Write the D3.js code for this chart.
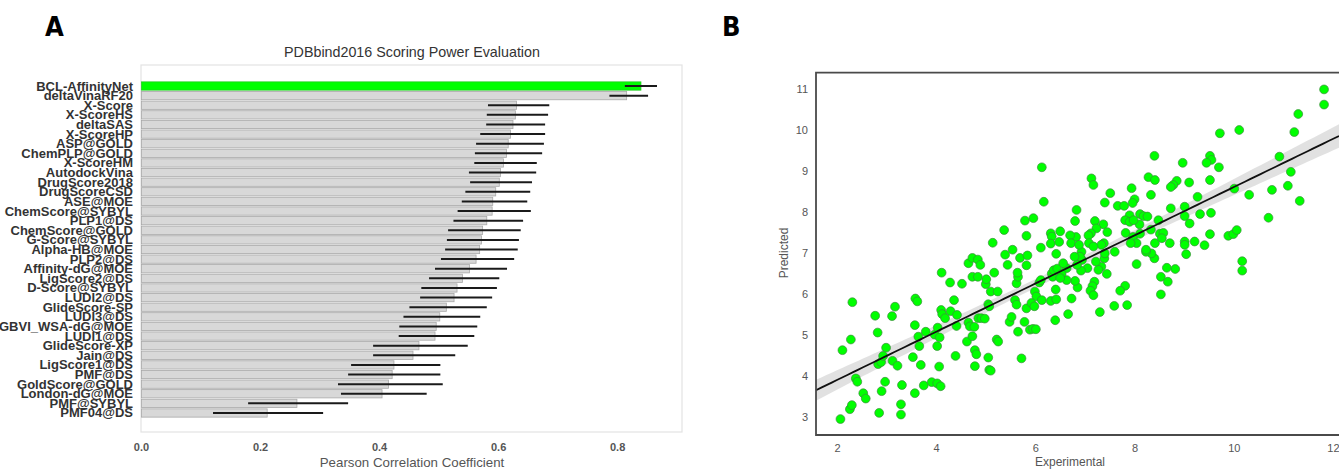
<!DOCTYPE html>
<html><head><meta charset="utf-8">
<script src="https://cdn.jsdelivr.net/npm/d3@7"></script>
<style>
html,body{margin:0;padding:0;background:#fff;}
svg{display:block;}
</style></head>
<body>
<svg id="chart" width="1339" height="470"></svg>
<script>
// ---------- Panel A data ----------
const methods = ["BCL-AffinityNet","deltaVinaRF20","X-Score","X-ScoreHS","deltaSAS","X-ScoreHP","ASP@GOLD","ChemPLP@GOLD","X-ScoreHM","AutodockVina","DrugScore2018","DrugScoreCSD","ASE@MOE","ChemScore@SYBYL","PLP1@DS","ChemScore@GOLD","G-Score@SYBYL","Alpha-HB@MOE","PLP2@DS","Affinity-dG@MOE","LigScore2@DS","D-Score@SYBYL","LUDI2@DS","GlideScore-SP","LUDI3@DS","GBVI_WSA-dG@MOE","LUDI1@DS","GlideScore-XP","Jain@DS","LigScore1@DS","PMF@DS","GoldScore@GOLD","London-dG@MOE","PMF@SYBYL","PMF04@DS"];
const pcc = [0.840,0.816,0.631,0.629,0.625,0.621,0.617,0.614,0.609,0.604,0.602,0.596,0.591,0.590,0.581,0.574,0.572,0.569,0.563,0.552,0.540,0.531,0.526,0.513,0.502,0.496,0.494,0.467,0.457,0.425,0.422,0.416,0.405,0.262,0.212];
const ciLow = [0.813,0.787,0.583,0.581,0.580,0.570,0.563,0.561,0.560,0.551,0.553,0.545,0.539,0.532,0.525,0.516,0.514,0.511,0.504,0.494,0.484,0.471,0.469,0.451,0.441,0.434,0.433,0.390,0.390,0.353,0.348,0.331,0.336,0.180,0.121];
const ciHigh = [0.867,0.852,0.686,0.684,0.679,0.679,0.677,0.674,0.665,0.664,0.657,0.654,0.649,0.655,0.642,0.638,0.635,0.633,0.627,0.615,0.602,0.598,0.590,0.581,0.570,0.565,0.560,0.549,0.528,0.503,0.503,0.507,0.480,0.348,0.306];
const highlight = "BCL-AffinityNet";
const xTicksA = [0.0,0.2,0.4,0.6,0.8];
const titleA = "PDBbind2016 Scoring Power Evaluation";
const xLabelA = "Pearson Correlation Coefficient";

// ---------- Panel B data ----------
const expX = [6.13,6.17,5.79,5.96,5.37,5.82,5.14,6.31,6.33,6.31,6.50,6.11,5.54,
2.07,2.26,2.30,2.11,2.28,2.31,2.38,2.41,2.53,2.58,2.77,2.82,2.85,2.83,2.89,2.90,2.97,2.99,2.93,3.11,3.17,3.12,3.22,3.29,3.29,3.31,3.57,3.57,3.53,3.58,3.62,3.64,3.66,3.69,3.75,3.79,3.91,3.97,4.03,4.02,4.07,4.06,4.02,4.09,4.11,4.10,4.12,4.18,4.28,4.29,4.36,4.42,4.41,4.39,4.52,4.62,4.65,4.68,4.73,4.77,4.78,4.78,4.81,4.85,4.91,4.98,5.05,5.07,5.10,5.05,5.07,5.10,5.24,5.22,5.25,5.00,5.01,5.17,4.73,4.84,4.65,4.73,4.84,4.89,5.39,5.44,5.48,5.52,5.65,5.72,5.59,5.62,5.62,5.65,5.64,5.69,5.82,5.84,5.78,5.82,5.89,5.95,6.01,5.99,6.02,5.92,5.98,6.08,6.13,6.11,6.31,6.40,6.33,6.35,6.37,6.41,6.42,6.44,6.42,
10.17,10.17,9.04,8.82,8.65,8.53,8.67,8.53,8.40,8.34,8.23,8.04,7.85,7.81,7.71,7.59,7.60,7.44,7.30,7.39,7.40,7.33,7.27,7.22,7.19,7.15,7.11,7.17,7.05,6.93,6.94,6.92,6.90,6.79,6.84,6.85,6.80,6.73,6.66,6.63,6.63,6.56,6.53,6.50,
11.82,11.82,11.30,11.22,10.92,11.15,11.09,11.33,10.77,10.70,10.31,10.01,10.11,9.72,9.52,9.55,9.45,9.70,8.97,8.40,9.52,9.10,8.85,8.78,8.73,9.27,9.32,9.54,9.01,9.01,9.11,8.73,8.71,9.01,9.01,9.21,9.41,9.52,9.89,9.99,10.06,8.33,8.28,8.41,7.94,8.00,7.96,7.51,7.40,7.13,7.17,6.83,6.80,7.66,7.79,7.90,8.11,8.18,8.26,8.10,8.48,7.81,7.90,7.98,7.82,7.97,8.04,7.92,8.11,8.33,8.41,8.51,8.58,8.55,8.23,7.20,7.37,7.45,7.38,7.23,7.33,7.12,7.07,7.08,7.17,6.82,6.70,6.48,6.72,6.88];
const predY = [9.09,8.25,7.79,7.85,7.56,7.42,7.25,7.48,7.40,7.23,7.53,7.13,7.08,
2.95,3.19,3.29,4.63,4.89,5.80,3.94,3.86,3.58,3.45,5.47,5.06,3.10,4.29,4.34,3.63,3.86,4.69,4.49,5.46,5.69,4.37,4.25,3.31,3.06,3.78,3.58,5.24,4.46,5.89,5.82,4.96,4.73,4.27,3.77,5.08,3.85,5.01,5.18,4.73,4.94,4.23,3.82,3.75,6.52,5.61,5.51,5.41,6.28,5.58,5.85,5.49,5.22,4.49,6.25,4.84,5.30,5.21,4.97,5.20,4.63,4.24,4.53,5.41,5.41,5.40,4.45,4.15,4.13,5.75,5.70,6.06,6.06,4.89,4.84,6.24,6.36,6.52,6.42,6.42,6.75,6.88,6.84,6.71,6.96,6.71,5.32,5.44,5.08,4.43,5.85,5.74,6.26,6.42,6.52,6.88,6.70,6.94,5.32,5.65,5.13,5.15,5.14,6.06,5.94,5.78,5.70,6.28,5.85,6.34,5.83,5.36,6.50,6.42,6.58,6.11,5.87,6.62,6.98,
6.80,6.57,6.97,6.61,6.64,6.42,6.30,5.99,6.87,6.99,7.03,6.73,5.73,6.20,6.08,5.71,7.03,6.49,5.56,6.87,6.99,6.67,6.59,6.79,6.30,6.19,6.08,5.97,6.63,7.03,6.83,6.57,6.91,6.91,6.71,6.16,6.32,5.89,5.51,6.34,6.63,6.75,6.49,6.39,
10.99,10.62,10.39,9.95,9.35,8.98,8.64,8.27,8.54,7.86,8.42,8.57,10.00,9.92,9.37,9.27,9.20,9.09,9.20,9.37,8.78,8.72,8.76,8.66,8.61,8.37,7.95,7.98,8.13,7.90,7.72,8.09,7.24,7.28,7.20,7.28,7.19,7.46,7.42,7.46,7.56,8.42,8.85,8.78,8.58,8.31,8.22,8.46,8.23,8.82,8.66,8.05,7.78,8.15,8.15,7.92,7.95,7.90,7.89,7.70,7.80,7.80,7.76,7.80,7.49,7.39,7.24,7.24,7.47,7.57,7.24,7.47,7.49,7.36,7.08,7.78,7.70,7.51,7.24,7.60,7.20,7.48,7.43,7.24,7.16,7.39,7.43,7.27,7.24,7.20];
const xTicksB = [2,4,6,8,10,12];
const yTicksB = [3,4,5,6,7,8,9,10,11];
const xLabelB = "Experimental";
const yLabelB = "Predicted";

const svg = d3.select("#chart");
const FONT = "'Liberation Sans', Arial, sans-serif";

// ================= Panel A =================
const A = {left:141, right:682, top:65, bottom:432};
const xA = d3.scaleLinear().domain([0, 0.909]).range([A.left, A.right]);
const yA = d3.scaleBand().domain(methods).range([81.2, 417.8]).paddingInner(0.14).paddingOuter(0.07);

svg.append("text").attr("x",45).attr("y",36).text("A")
  .attr("font-family","'Liberation Sans Narrow','DejaVu Sans Condensed',sans-serif")
  .attr("font-weight","bold").attr("font-size",27).attr("fill","#000");

svg.append("text").attr("x",412).attr("y",57).attr("text-anchor","middle")
  .attr("font-family",FONT).attr("font-size",14.3).attr("fill","#333").text(titleA);

svg.append("rect").attr("x",A.left).attr("y",A.top).attr("width",A.right-A.left).attr("height",A.bottom-A.top)
  .attr("fill","none").attr("stroke","#e3e3e3").attr("stroke-width",1.2);

const gA = svg.append("g");
gA.selectAll("rect.bar").data(methods).join("rect").attr("class","bar")
  .attr("x", xA(0)+0.5)
  .attr("y", d=>yA(d))
  .attr("width", (d,i)=>xA(pcc[i])-xA(0)-0.5)
  .attr("height", yA.bandwidth())
  .attr("fill", d=>d===highlight ? "#00ff00" : "#d8d8d8")
  .attr("stroke", d=>d===highlight ? "#22cc22" : "#a8a8a8")
  .attr("stroke-width",0.8);

gA.selectAll("line.err").data(methods).join("line").attr("class","err")
  .attr("x1",(d,i)=>xA(ciLow[i])).attr("x2",(d,i)=>xA(ciHigh[i]))
  .attr("y1",d=>yA(d)+yA.bandwidth()/2).attr("y2",d=>yA(d)+yA.bandwidth()/2)
  .attr("stroke","#1a1a1a").attr("stroke-width",2);

gA.selectAll("text.lab").data(methods).join("text").attr("class","lab")
  .attr("x",133).attr("y",d=>yA(d)+yA.bandwidth()/2+4.5)
  .attr("text-anchor","end").attr("font-family",FONT).attr("font-weight","bold")
  .attr("font-size",13).attr("fill","#333").text(d=>d);

const axA = svg.append("g").attr("transform",`translate(0,${A.bottom})`)
  .call(d3.axisBottom(xA).tickValues(xTicksA).tickFormat(d3.format(".1f")).tickSize(0).tickPadding(11));
axA.select(".domain").remove();
axA.selectAll("text").attr("font-family",FONT).attr("font-weight","bold").attr("font-size",11).attr("fill","#555");

svg.append("text").attr("x",412).attr("y",467).attr("text-anchor","middle")
  .attr("font-family",FONT).attr("font-size",13.3).attr("fill","#555").text(xLabelA);

// ================= Panel B =================
const B = {left:816, right:1339, top:72.7, bottom:435};
const xB = d3.scaleLinear().domain([1.577, 1.577 + (B.right-B.left)/49.6]).range([B.left, B.right]);
const yB = d3.scaleLinear().domain([3 - (B.bottom-417)/41, 3 + (417-B.top)/41]).range([B.bottom, B.top]);

svg.append("text").attr("x",722).attr("y",36).text("B")
  .attr("font-family","'Liberation Sans Narrow','DejaVu Sans Condensed',sans-serif")
  .attr("font-weight","bold").attr("font-size",27).attr("fill","#000");

// regression (least squares) with 95% CI
const n = expX.length;
const mx = d3.mean(expX), my = d3.mean(predY);
let sxx=0, sxy=0;
for(let i=0;i<n;i++){ sxx+=(expX[i]-mx)**2; sxy+=(expX[i]-mx)*(predY[i]-my); }
const slope = sxy/sxx, intercept = my - slope*mx;
let sse=0; for(let i=0;i<n;i++){ sse+=(predY[i]-(intercept+slope*expX[i]))**2; }
const s = Math.sqrt(sse/(n-2)), tcrit = 1.97;
const xs = d3.range(0,101).map(k=>xB.domain()[0] + k*(xB.domain()[1]-xB.domain()[0])/100);
const band = xs.map(x=>{ const yh=intercept+slope*x; const se=s*Math.sqrt(1/n+(x-mx)**2/sxx); return {x, lo:yh-tcrit*se, hi:yh+tcrit*se, y:yh}; });

const gB = svg.append("g");
gB.append("path").datum(band)
  .attr("d", d3.area().x(d=>xB(d.x)).y0(d=>yB(d.lo)).y1(d=>yB(d.hi)))
  .attr("fill","#c8c8c8").attr("fill-opacity",0.55);

gB.selectAll("circle").data(d3.range(n)).join("circle")
  .attr("cx",i=>xB(expX[i])).attr("cy",i=>yB(predY[i])).attr("r",4.4)
  .attr("fill","#00ff00").attr("stroke","#3c8c3c").attr("stroke-width",0.7);

gB.append("path").datum(band)
  .attr("d", d3.line().x(d=>xB(d.x)).y(d=>yB(d.y)))
  .attr("fill","none").attr("stroke","#111").attr("stroke-width",1.8);

// frame
svg.append("path").attr("d",`M${B.right+5},${B.top}H${B.left}V${B.bottom}H${B.right+5}`)
  .attr("fill","none").attr("stroke","#4a4a4a").attr("stroke-width",1.8);

const axBx = svg.append("g").attr("transform",`translate(0,${B.bottom})`)
  .call(d3.axisBottom(xB).tickValues(xTicksB).tickSize(0).tickPadding(9));
axBx.select(".domain").remove();
axBx.selectAll("text").attr("font-family",FONT).attr("font-size",11).attr("fill","#555");

const axBy = svg.append("g").attr("transform",`translate(${B.left},0)`)
  .call(d3.axisLeft(yB).tickValues(yTicksB).tickSize(0).tickPadding(8));
axBy.select(".domain").remove();
axBy.selectAll("text").attr("font-family",FONT).attr("font-size",11).attr("fill","#555");

svg.append("text").attr("x",1070).attr("y",466).attr("text-anchor","middle")
  .attr("font-family",FONT).attr("font-size",12).attr("fill","#555").text(xLabelB);
svg.append("text").attr("transform","translate(788,253) rotate(-90)").attr("text-anchor","middle")
  .attr("font-family",FONT).attr("font-size",12).attr("fill","#555").text(yLabelB);
</script>
</body></html>
